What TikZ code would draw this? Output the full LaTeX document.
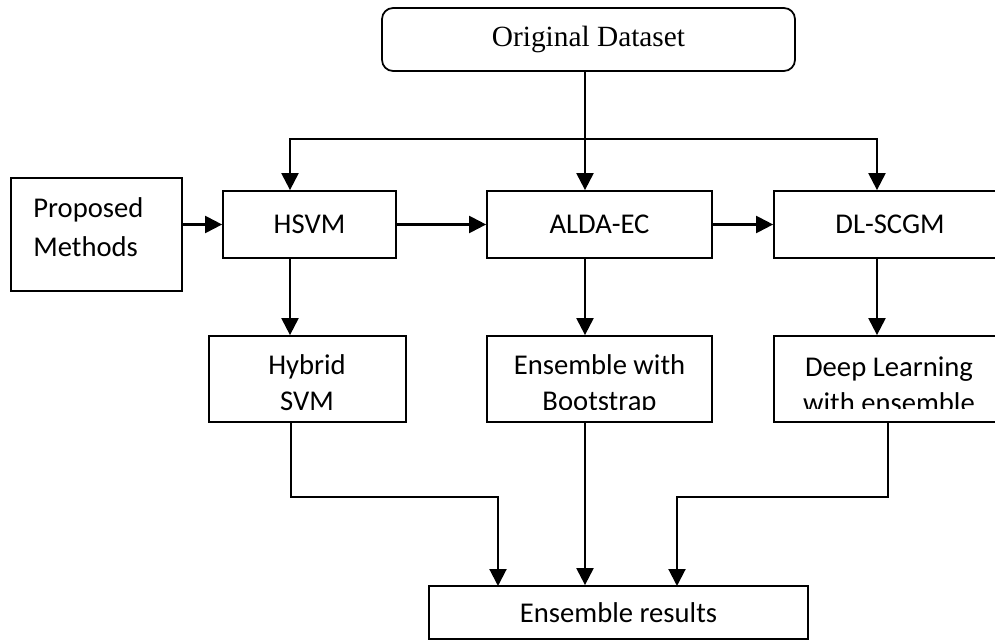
\documentclass[tikz,border=0pt]{standalone}
\usepackage{fontspec}
\setmainfont{Carlito}
\newfontfamily\timesfont{Liberation Serif}
\usetikzlibrary{arrows.meta}

\begin{document}
\begin{tikzpicture}[x=0.02cm, y=-0.02cm,
      every node/.style={font=\fontsize{16.3}{21}\selectfont},
      box/.style={draw, line width=1pt, inner sep=0pt},
      link/.style={line width=1.2pt},
      flow/.style={link, -{Triangle[length=0.34cm, width=0.34cm]}}]
    \useasboundingbox (0,0) rectangle (995,641);
    \clip (0,0) rectangle (995,641);
    % top and first row
    \node[box, rounded corners=0.22cm, minimum width=8.26cm, minimum height=1.26cm,
          font=\timesfont\fontsize{16.7}{21}\selectfont]
          (data) at (588.5,39.5) {Original Dataset};
    \node[box, minimum width=3.42cm, minimum height=2.26cm] (prop) at (96.5,234.5) {};
    \node[anchor=base west, align=left, inner sep=0pt, font=\fontsize{16.3}{22.7}\selectfont]
          (propTxt) at (33,257) {Proposed\\Methods};
    \node[box, minimum width=3.46cm, minimum height=1.34cm] (hsvm) at (309.5,224.5) {HSVM};
    \node[box, minimum width=4.5cm, minimum height=1.34cm] (alda) at (599.5,224.5) {ALDA-EC};
    \node[box, minimum width=4.64cm, minimum height=1.34cm] (dl) at (890,224.5) {DL-SCGM};
    % second row
    \node[box, minimum width=3.94cm, minimum height=1.72cm] (hyb) at (307.5,379) {};
    \node[box, minimum width=4.5cm, minimum height=1.72cm] (boot) at (599.5,379) {};
    \node[box, minimum width=4.64cm, minimum height=1.72cm] (deep) at (890,379) {};
    \node[anchor=base, align=center, inner sep=0pt] (hybTxt) at (307,411) {Hybrid\\SVM};
    \begin{scope}
      \clip (487,336) rectangle (712,410);
      \node[anchor=base, align=center, inner sep=0pt] (bootTxt) at (599.5,411) {Ensemble with\\Bootstrap};
    \end{scope}
    \begin{scope}
      \clip (774,336) rectangle (995,409);
      \node[anchor=base, align=center, inner sep=0pt] (deepTxt) at (889,413) {Deep Learning\\with ensemble};
    \end{scope}
    \node[box, minimum width=7.58cm, minimum height=1.06cm] (res) at (618.5,612.5) {Ensemble results};
    % connectors
    \coordinate (jL) at (290,139);
    \coordinate (jM) at (585,139);
    \coordinate (jR) at (877,139);
    \coordinate (bL) at (291,497);
    \coordinate (bR) at (888,497);
    \coordinate (inL) at (498,586);
    \coordinate (inR) at (677,586);
    \draw[link] (data.south -| jM) -- (jM);
    \draw[flow] (jM) -- (jM |- alda.north);
    \draw[flow] (jM) -- (jL) -- (jL |- hsvm.north);
    \draw[flow] (jM) -- (jR) -- (jR |- dl.north);
    \draw[flow] (prop.east |- hsvm.west) -- (hsvm.west);
    \draw[flow] (hsvm.east) -- (alda.west);
    \draw[flow] (alda.east) -- (dl.west);
    \draw[flow] (jL |- hsvm.south) -- (jL |- hyb.north);
    \draw[flow] (jM |- alda.south) -- (jM |- boot.north);
    \draw[flow] (jR |- dl.south) -- (jR |- deep.north);
    \draw[flow] (hyb.south -| bL) -- (bL) -| (inL);
    \draw[flow] (jM |- boot.south) -- (jM |- res.north);
    \draw[flow] (deep.south -| bR) -- (bR) -| (inR);
\end{tikzpicture}
\end{document}
